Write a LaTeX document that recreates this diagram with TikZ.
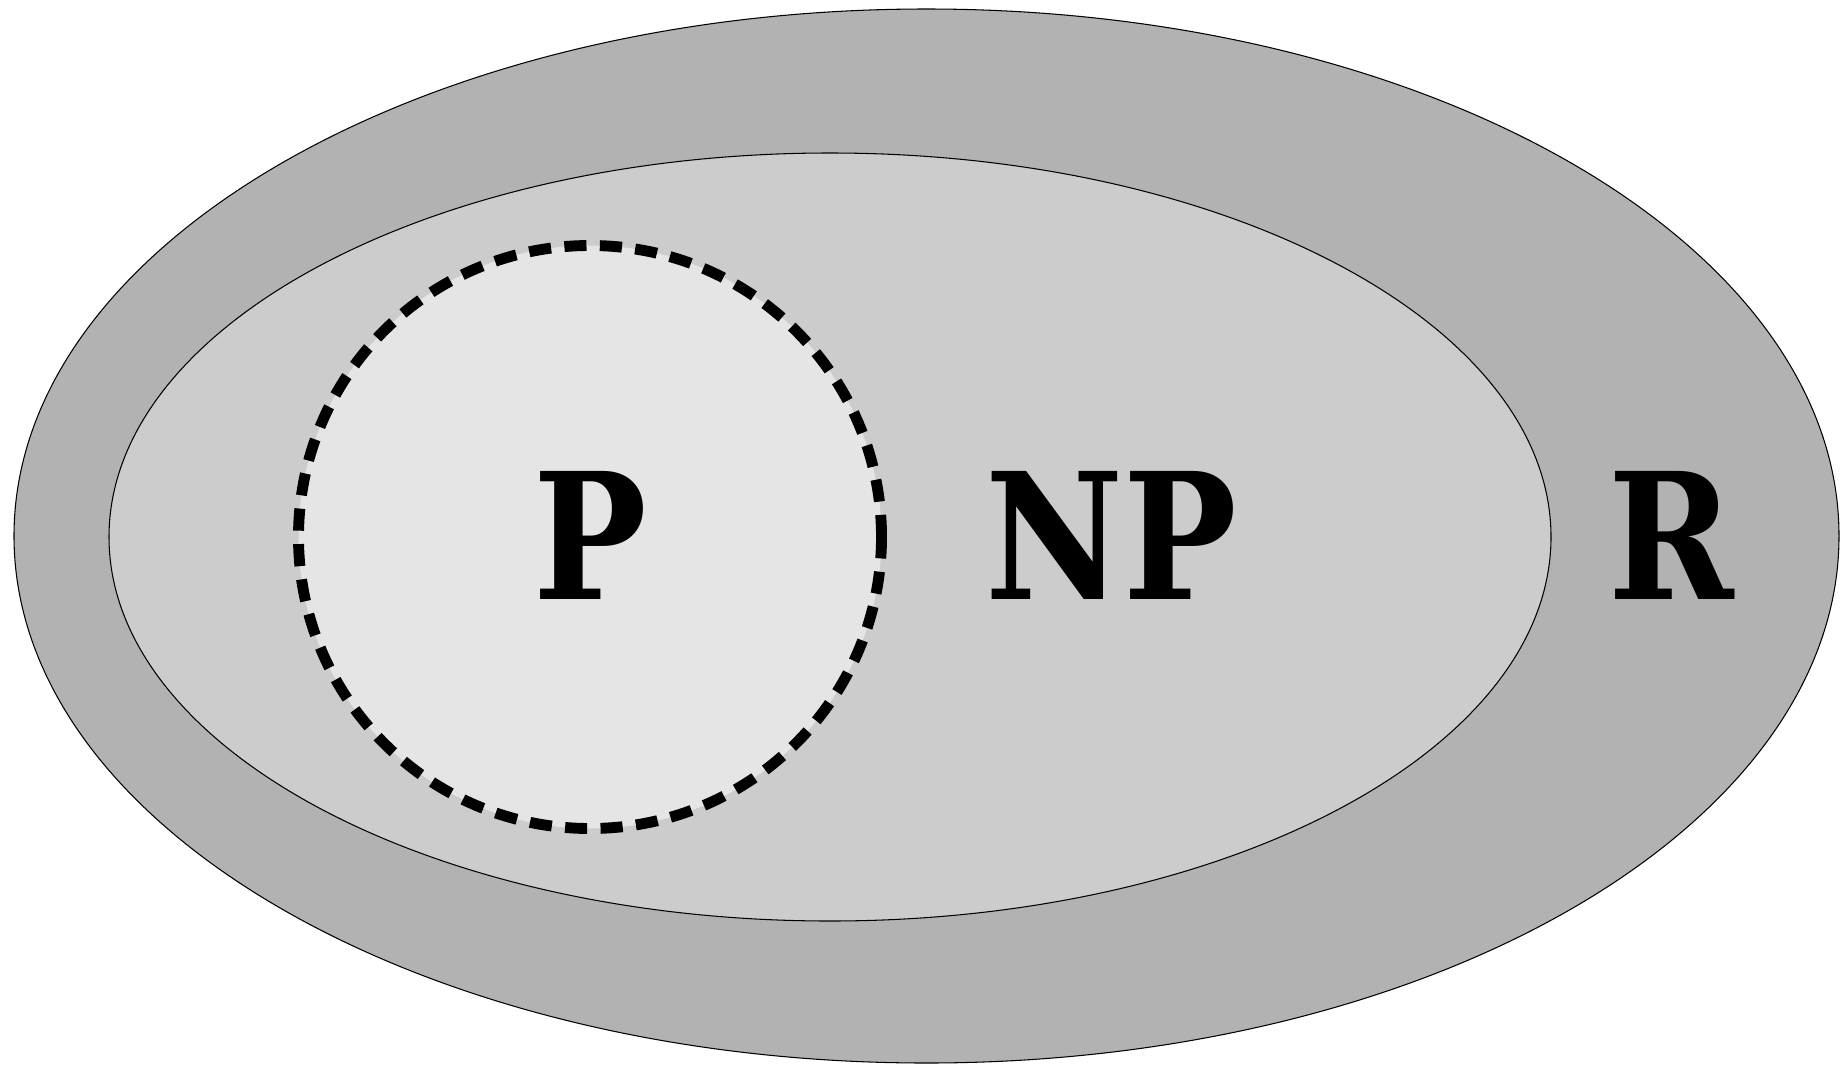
\documentclass[tikz,border=0pt]{standalone}
\usepackage{fontspec}
\setmainfont{DejaVu Serif}[FakeStretch=0.86]
\usetikzlibrary{shapes.geometric}

\begin{document}
\begin{tikzpicture}[
	every node/.append style={shape=ellipse, inner sep=0pt},
	setbox/.style={draw=black, line width=0.3pt},
	label/.style={draw=none, shape=rectangle, anchor=base,
		font=\fontsize{50}{60}\selectfont\bfseries}]

	\useasboundingbox (0,0) rectangle (18.48,10.64);

	% classes, outer to inner
	\node[setbox, fill=black!30, minimum width=18.25cm, minimum height=10.54cm] at (9.265, 5.28) (R){};
	\node[setbox, fill=black!20, minimum width=14.42cm, minimum height=7.68cm] at (8.30, 5.27) (NP){};
	\node[draw=black, fill=black!10, shape=circle, line width=3.1pt,
		dash pattern=on 6.3pt off 3.8pt, minimum size=5.83cm] at (5.90, 5.27) (P){};

	\node[label] at (5.90, 4.65) (Ptext){P};
	\node[label] at (11.11, 4.65) (NPtext){NP};
	\node[label] at (16.71, 4.65) (Rtext){R};
\end{tikzpicture}
\end{document}
